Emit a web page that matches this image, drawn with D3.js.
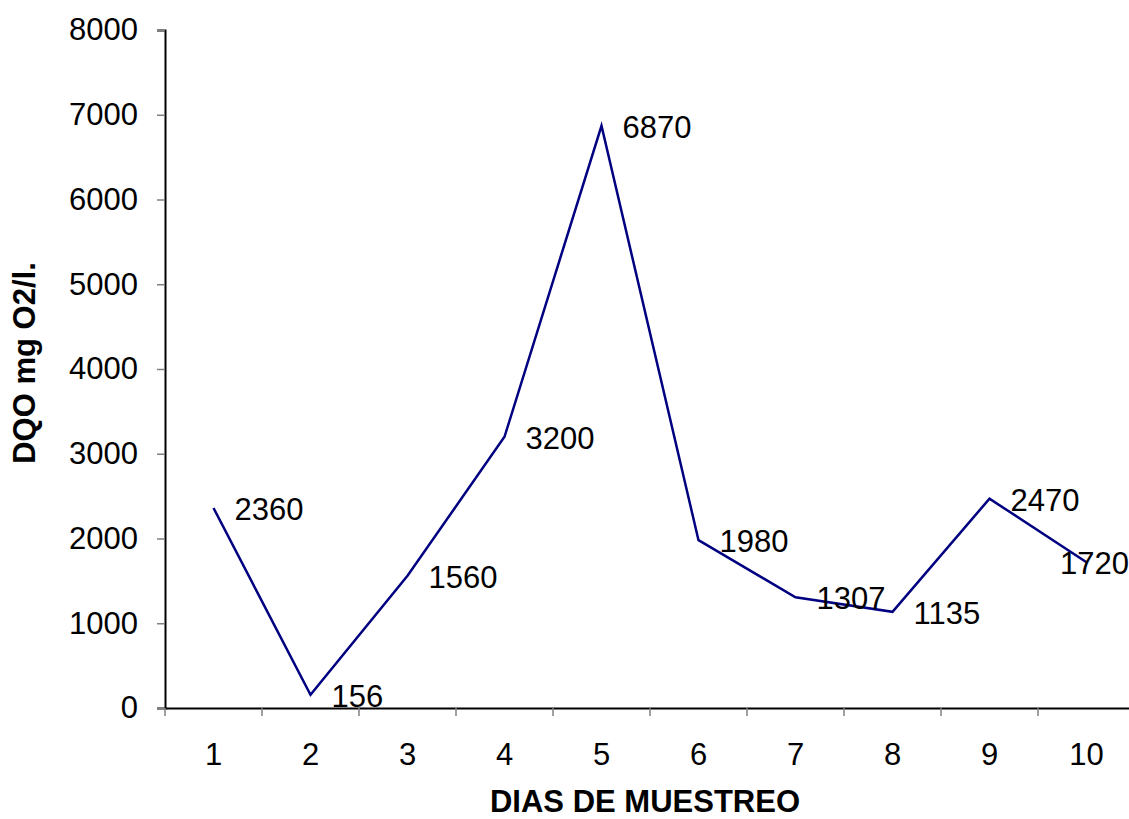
<!DOCTYPE html>
<html>
<head>
<meta charset="utf-8">
<script src="https://cdn.jsdelivr.net/npm/d3@7"></script>
<style>
  body { margin: 0; background: #fff; }
  text { font-family: "Liberation Sans", Arial, sans-serif; }
</style>
</head>
<body>
<div id="chart"></div>
<script>
const dias = ['1', '2', '3', '4', '5', '6', '7', '8', '9', '10']
const dqo = [2360, 156, 1560, 3200, 6870, 1980, 1307, 1135, 2470, 1720]
const yTicks = [0, 1000, 2000, 3000, 4000, 5000, 6000, 7000, 8000]

const W = 1129
const H = 819
const margin = { top: 30, left: 165, right: -6, bottom: 111 }
const width = W - margin.left - margin.right
const height = H - margin.top - margin.bottom

const root = d3
  .select('#chart')
  .append('svg')
  .attr('width', W)
  .attr('height', H)

const svg = root
  .append('g')
  .attr('transform', 'translate(' + margin.left + ',' + margin.top + ')')

const x = d3.scaleBand().domain(dias).range([0, width]).padding(0)
const y = d3.scaleLinear().domain([0, 8000]).range([height, 0])

// y axis
const yAxis = svg
  .append('g')
  .call(d3.axisLeft(y).tickValues(yTicks).tickFormat(d3.format('d')).tickSize(8).tickPadding(19))
yAxis.select('.domain').attr('stroke', '#000').attr('stroke-width', 2)
yAxis.selectAll('.tick line').attr('stroke', '#808080').attr('stroke-width', 1.5)
yAxis.selectAll('.tick text')
  .attr('font-size', 31)
  .attr('fill', '#000')
  .style('font-family', '"Liberation Sans", Arial, sans-serif')

// x axis: labels at band centres, ticks at band edges
const xAxis = svg
  .append('g')
  .attr('transform', `translate(0,${height})`)
  .call(d3.axisBottom(x).tickSize(0).tickPadding(35))
xAxis.select('.domain').attr('stroke', '#000').attr('stroke-width', 2)
xAxis.selectAll('.tick text')
  .attr('font-size', 31)
  .attr('fill', '#000')
  .style('font-family', '"Liberation Sans", Arial, sans-serif')

const edges = dias.map(d => x(d)).concat([x(dias[dias.length - 1]) + x.bandwidth()])
xAxis.selectAll('.edge')
  .data(edges)
  .enter()
  .append('line')
  .attr('class', 'edge')
  .attr('x1', d => d)
  .attr('x2', d => d)
  .attr('y1', 0)
  .attr('y2', 8)
  .attr('stroke', '#808080')
  .attr('stroke-width', 1.5)

// the line
const line = d3.line()
  .x((d, i) => x(dias[i]) + x.bandwidth() / 2)
  .y(d => y(d))

svg.append('path')
  .datum(dqo)
  .attr('d', line)
  .attr('fill', 'none')
  .attr('stroke', '#000080')
  .attr('stroke-width', 2.5)
  .attr('stroke-linejoin', 'miter')

// data labels
svg.selectAll('.lbl')
  .data(dqo)
  .enter()
  .append('text')
  .attr('class', 'lbl')
  .attr('font-size', 31)
  .attr('fill', '#000')
  .attr('x', (d, i) => x(dias[i]) + x.bandwidth() / 2 + 21)
  .attr('y', d => y(d) + 12)
  .text(d => d)
  .each(function() {
    // keep label inside the page like the spreadsheet does
    const b = this.getBBox()
    const over = margin.left + b.x + b.width - W
    if (over > 0) d3.select(this).attr('x', b.x - over)
  })

// axis titles
root.append('text')
  .attr('x', margin.left + width / 2 - 5)
  .attr('y', 812)
  .attr('text-anchor', 'middle')
  .attr('font-size', 31)
  .attr('font-weight', 'bold')
  .text('DIAS DE MUESTREO')

root.append('text')
  .attr('transform', `translate(35,${margin.top + height / 2 - 6}) rotate(-90)`)
  .attr('text-anchor', 'middle')
  .attr('font-size', 31)
  .attr('font-weight', 'bold')
  .text('DQO mg O2/l.')
</script>
</body>
</html>
